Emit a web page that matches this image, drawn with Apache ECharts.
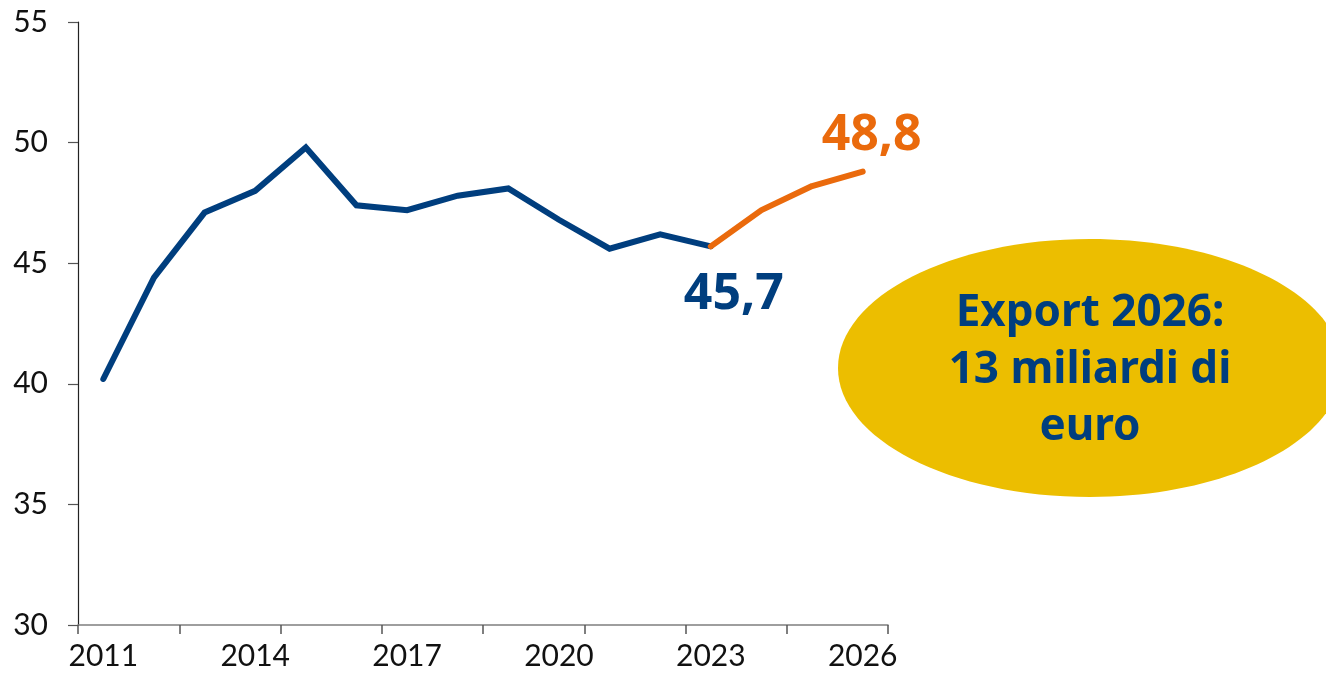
<!DOCTYPE html>
<html>
<head>
<meta charset="utf-8">
<script src="https://cdn.jsdelivr.net/npm/echarts@6/dist/echarts.min.js"></script>
<style>
html,body{margin:0;padding:0;background:#fff;}
#chart{width:1326px;height:681px;}
</style>
</head>
<body>
<div id="chart"></div>
<script>
const years = ['2011','2012','2013','2014','2015','2016','2017','2018','2019','2020','2021','2022','2023','2024','2025','2026'];
const historical = [40.2, 44.4, 47.1, 48.0, 49.8, 47.4, 47.2, 47.8, 48.1, 46.8, 45.6, 46.2, 45.7, null, null, null];
const forecast = [null, null, null, null, null, null, null, null, null, null, null, null, 45.7, 47.2, 48.2, 48.8];
const yTicks = { min: 30, max: 55, interval: 5 };
const calloutLines = ['Export 2026:', '13 miliardi di', 'euro'];

const BLUE = '#003E7E';
const ORANGE = '#EA6A0C';
const GOLD = '#ECBE00';
const fmt = v => String(v).replace('.', ',');

const histData = historical.map((v, i) => {
  if (i === 12) {
    return { value: v,
      label: { show: true, position: 'bottom', distance: 0, offset: [23, 23], formatter: p => fmt(p.value), color: BLUE, fontSize: 50, fontWeight: 'bold', fontFamily: 'Noto Sans' } };
  }
  return v;
});
const foreData = forecast.map((v, i) => {
  if (i === forecast.length - 1) {
    return { value: v,
      label: { show: true, position: 'top', distance: 0, offset: [9, -11], formatter: p => fmt(p.value), color: ORANGE, fontSize: 50, fontWeight: 'bold', fontFamily: 'Noto Sans' } };
  }
  return v;
});

const chart = echarts.init(document.getElementById('chart'));
chart.setOption({
  animation: false,
  backgroundColor: '#fff',
  grid: { left: 78, right: 438, top: 22, bottom: 56, containLabel: false },
  xAxis: {
    type: 'category',
    data: years,
    boundaryGap: true,
    axisLine: { show: true, lineStyle: { color: '#7f7f7f', width: 1.5 } },
    axisTick: { show: true, interval: 1, length: 9, lineStyle: { color: '#555', width: 1.5 } },
    axisLabel: { interval: 2, margin: 16, fontSize: 30, color: '#111', fontFamily: 'Lato' },
    splitLine: { show: false }
  },
  yAxis: {
    type: 'value',
    min: yTicks.min, max: yTicks.max, interval: yTicks.interval,
    axisLine: { show: true, lineStyle: { color: '#222', width: 1.2 } },
    axisTick: { show: true, length: 10, lineStyle: { color: '#555', width: 1.2 } },
    axisLabel: { margin: 30, fontSize: 30, color: '#111', fontFamily: 'Lato' },
    splitLine: { show: false }
  },
  series: [
    {
      type: 'line', data: histData, symbol: 'circle', symbolSize: 0, showSymbol: true, connectNulls: false,
      lineStyle: { color: BLUE, width: 6, cap: 'round', join: 'miter' },
      itemStyle: { color: BLUE }, z: 3
    },
    {
      type: 'line', data: foreData, symbol: 'circle', symbolSize: 0, showSymbol: true, connectNulls: false,
      lineStyle: { color: ORANGE, width: 6, cap: 'round' },
      itemStyle: { color: ORANGE }, z: 4
    }
  ],
  graphic: [
    {
      type: 'ellipse',
      shape: { cx: 1090, cy: 368, rx: 252, ry: 129 },
      style: { fill: GOLD },
      z: 1
    },
    {
      type: 'text',
      x: 1090, y: 370,
      style: {
        text: calloutLines.join('\n'),
        fill: BLUE,
        font: 'bold 44px "Noto Sans"',
        lineHeight: 57,
        align: 'center',
        verticalAlign: 'middle'
      },
      z: 2
    }
  ]
});
</script>
</body>
</html>
